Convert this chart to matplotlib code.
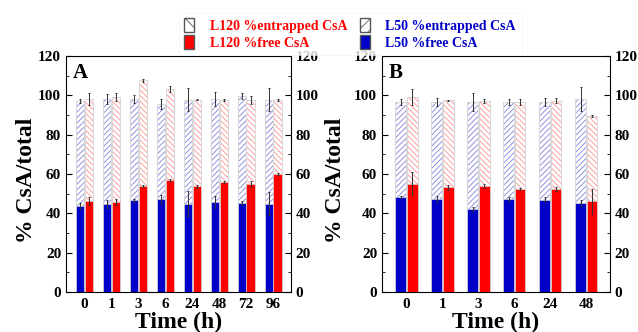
import numpy as np
import matplotlib
matplotlib.use('Agg')
import matplotlib.pyplot as plt
from matplotlib.patches import Patch

plt.rcParams['font.family'] = ['Liberation Serif', 'DejaVu Serif']
plt.rcParams['font.weight'] = 'bold'
plt.rcParams['hatch.linewidth'] = 0.6

# Panel A data
times_a = ['0', '1', '3', '6', '24', '48', '72', '96']
l50_free_a = [43.6, 44.7, 46.6, 47.5, 44.9, 45.6, 45.1, 44.9]
l50_free_err_a = [1.5, 2.0, 0.7, 2.0, 6.4, 3.0, 1.0, 6.0]
l50_total_a = [97.3, 98.1, 98.1, 95.6, 97.8, 98.1, 99.5, 97.8]
l50_total_err_a = [1.0, 2.5, 2.0, 2.5, 5.7, 3.4, 1.5, 5.7]
l120_free_a = [46.1, 45.6, 53.7, 56.8, 53.7, 55.8, 54.9, 60.0]
l120_free_err_a = [2.0, 1.5, 0.5, 0.5, 0.7, 0.5, 1.5, 0.5]
l120_total_a = [98.1, 99.0, 107.6, 103.4, 97.8, 97.8, 97.8, 97.8]
l120_total_err_a = [3.0, 2.0, 0.7, 1.5, 0.3, 0.5, 2.0, 0.5]

# Panel B data
times_b = ['0', '1', '3', '6', '24', '48']
l50_free_b = [48.1, 47.3, 42.2, 47.3, 46.9, 45.3]
l50_free_err_b = [0.5, 1.5, 1.0, 0.8, 1.2, 1.5]
l50_total_b = [96.4, 96.4, 96.6, 96.8, 96.4, 98.1]
l50_total_err_b = [1.5, 2.0, 4.6, 1.5, 2.0, 6.3]
l120_free_b = [55.1, 53.2, 53.7, 52.5, 52.4, 46.1]
l120_free_err_b = [5.8, 1.2, 1.0, 0.5, 1.0, 6.3]
l120_total_b = [99.0, 97.5, 97.3, 96.8, 97.3, 89.7]
l120_total_err_b = [4.0, 0.3, 1.0, 1.5, 1.2, 0.5]

BLUE = '#0000c8'
RED = '#ff0000'
W = 0.3
OFF = 0.16


def draw_group(ax, x, free, free_err, total, total_err, color, hatch_color, hatch):
    total = np.array(total)
    free = np.array(free)
    # entrapped part, hatched, stacked on top of free
    ax.bar(x, total - free, W, bottom=free, facecolor='white',
           edgecolor=hatch_color, hatch=hatch, linewidth=0, zorder=2)
    ax.bar(x, total - free, W, bottom=free, fill=False,
           edgecolor='#d8d8d8', linewidth=0.8, zorder=3)
    ax.errorbar(x, total, yerr=total_err, fmt='none', ecolor='#333333',
                elinewidth=0.7, capsize=1, capthick=0.7, zorder=4)
    # free part, solid
    ax.bar(x, free, W, color=color, edgecolor='#d8d8d8', linewidth=0.5, zorder=3)
    ax.errorbar(x, free, yerr=free_err, fmt='none', ecolor='#333333',
                elinewidth=0.7, capsize=1, capthick=0.7, zorder=4)


def panel(ax, times, l50f, l50fe, l50t, l50te, l120f, l120fe, l120t, l120te, label, ylab_x):
    x = np.arange(len(times))
    draw_group(ax, x - OFF, l50f, l50fe, l50t, l50te, BLUE, '#8080e0', '//////')
    draw_group(ax, x + OFF, l120f, l120fe, l120t, l120te, RED, '#ff9090', '\\\\\\\\\\\\')
    ax.set_xlim(-0.68, len(times) - 1 + 0.66)
    ax.set_ylim(0, 120)
    ax.set_xticks(x)
    ax.set_xticklabels(times)
    ax.tick_params(axis='x', length=0, labelsize=11, pad=4)
    ax.set_yticks(range(0, 121, 20))
    ax.set_yticks(range(0, 121, 10), minor=True)
    ax.tick_params(axis='y', which='both', direction='in', left=True, right=True,
                   labelleft=True, labelright=True, labelsize=11)
    ax.tick_params(axis='y', which='major', length=4)
    ax.tick_params(axis='y', which='minor', length=2)
    ax.set_xlabel('Time (h)', fontsize=17, fontweight='bold', labelpad=1)
    ax.set_ylabel('% CsA/total', fontsize=17, fontweight='bold')
    ax.yaxis.set_label_coords(ylab_x, 0.475)
    ax.text(0.03, 0.97, label, transform=ax.transAxes, fontsize=15,
            va='top', ha='left')


fig = plt.figure(figsize=(6.38, 3.32), dpi=100)
ax1 = fig.add_axes([66 / 638, 1 - 292 / 332, 225 / 638, 236 / 332])
ax2 = fig.add_axes([382 / 638, 1 - 292 / 332, 228 / 638, 236 / 332])

panel(ax1, times_a, l50_free_a, l50_free_err_a, l50_total_a, l50_total_err_a,
      l120_free_a, l120_free_err_a, l120_total_a, l120_total_err_a, 'A', -0.13)
panel(ax2, times_b, l50_free_b, l50_free_err_b, l50_total_b, l50_total_err_b,
      l120_free_b, l120_free_err_b, l120_total_b, l120_total_err_b, 'B', -0.16)

handles = [
    Patch(facecolor='white', edgecolor='#555555', hatch='\\\\'),
    Patch(facecolor=RED, edgecolor='#555555'),
    Patch(facecolor='white', edgecolor='#555555', hatch='///'),
    Patch(facecolor=BLUE, edgecolor='#555555'),
]
labels = ['L120 %entrapped CsA', 'L120 %free CsA', 'L50 %entrapped CsA', 'L50 %free CsA']
leg = fig.legend(handles, labels, ncol=2, loc='center', bbox_to_anchor=(350 / 638, 1 - 34 / 332),
                 fontsize=10, frameon=True, handlelength=0.75, handleheight=1.1,
                 handletextpad=1.1, columnspacing=0.9, labelspacing=0.2,
                 borderpad=0.4, borderaxespad=0, fancybox=False)
leg.get_frame().set_edgecolor('#f2f2f2')
leg.get_frame().set_linewidth(0.5)
for t, c in zip(leg.get_texts(), [RED, RED, BLUE, BLUE]):
    t.set_color(c)

fig.savefig('out.png', dpi=100)
